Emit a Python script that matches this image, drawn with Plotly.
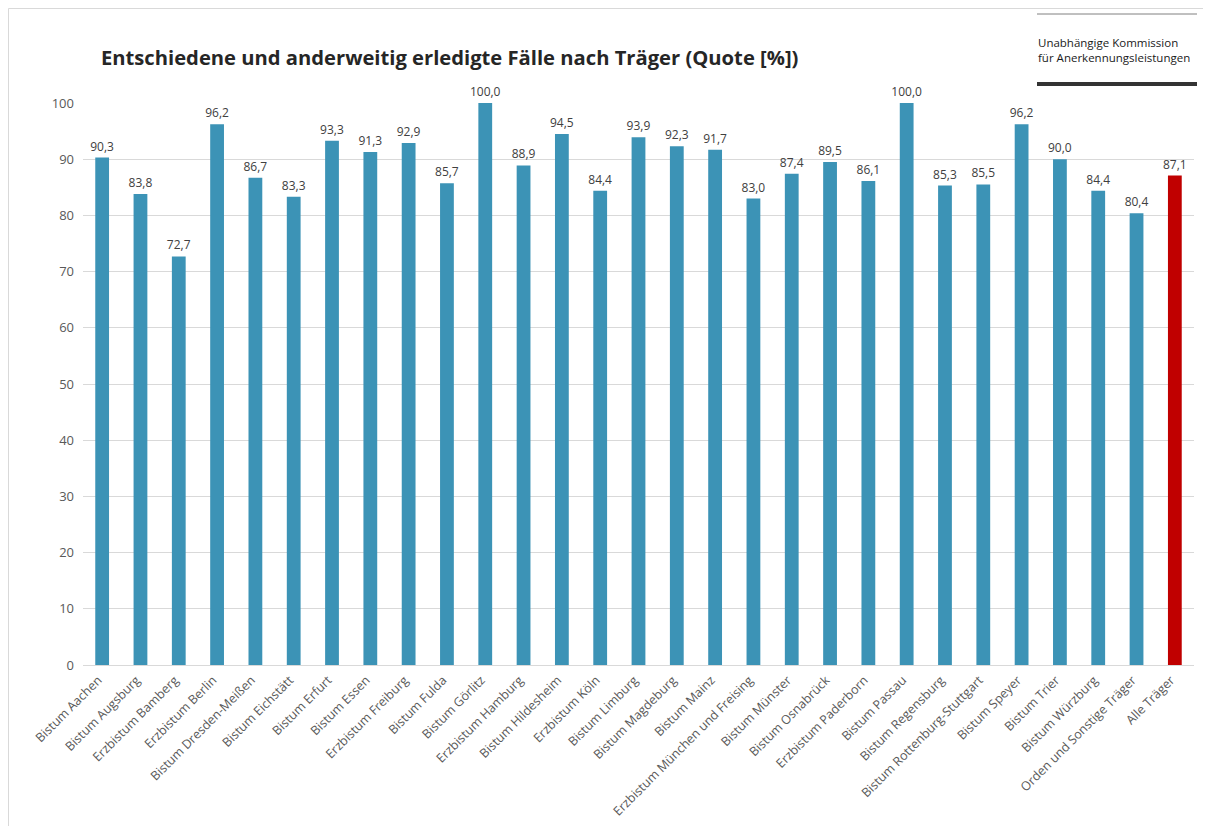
import plotly.graph_objects as go

categories = ["Bistum Aachen", "Bistum Augsburg", "Erzbistum Bamberg", "Erzbistum Berlin",
              "Bistum Dresden-Meißen", "Bistum Eichstätt", "Bistum Erfurt", "Bistum Essen",
              "Erzbistum Freiburg", "Bistum Fulda", "Bistum Görlitz", "Erzbistum Hamburg",
              "Bistum Hildesheim", "Erzbistum Köln", "Bistum Limburg", "Bistum Magdeburg",
              "Bistum Mainz", "Erzbistum München und Freising", "Bistum Münster",
              "Bistum Osnabrück", "Erzbistum Paderborn", "Bistum Passau", "Bistum Regensburg",
              "Bistum Rottenburg-Stuttgart", "Bistum Speyer", "Bistum Trier", "Bistum Würzburg",
              "Orden und Sonstige Träger", "Alle Träger"]
values = [90.3, 83.8, 72.7, 96.2, 86.7, 83.3, 93.3, 91.3, 92.9, 85.7, 100.0, 88.9, 94.5, 84.4,
          93.9, 92.3, 91.7, 83.0, 87.4, 89.5, 86.1, 100.0, 85.3, 85.5, 96.2, 90.0, 84.4, 80.4, 87.1]
y_ticks = [0, 10, 20, 30, 40, 50, 60, 70, 80, 90, 100]

BLUE = "#3c93b6"
RED = "#c00000"
colors = [RED if c == "Alle Träger" else BLUE for c in categories]
labels = [f"{v:.1f}".replace(".", ",") for v in values]

FONT = "Open Sans"

# page offset (body margin) of 8px
OFF = 8
W, H = 1211 - OFF - 8, 834 - OFF - 8
L, R, T, B = 83, 1194, 103, 665  # page coords of plot area
ml, mt = L - OFF, T - OFF
mr = W - (R - OFF)
mb = H - (B - OFF)
PW, PH = R - L, B - T


def fx(px):
    return (px - L) / PW


def fy(py):
    return (B - py) / PH


fig = go.Figure(go.Bar(
    x=categories, y=values, marker=dict(color=colors, line=dict(width=0)),
    text=labels, textposition="outside", cliponaxis=False, constraintext="none",
    textfont=dict(family=FONT, size=12, color="#404040"),
))

fig.update_layout(
    width=W, height=H,
    paper_bgcolor="white", plot_bgcolor="white",
    margin=dict(l=ml, r=mr, t=mt, b=mb, pad=0, autoexpand=False),
    bargap=0.64,
    showlegend=False,
    font=dict(family=FONT, color="#595959"),
    xaxis=dict(tickangle=-45, tickfont=dict(size=12.5, color="#595959", family=FONT),
               showline=True, linecolor="#d9d9d9", linewidth=1, ticks="", automargin=False,
               ticklabelstandoff=2, ticklabelshift=-4,
               range=[-0.5, len(categories) - 0.5]),
    yaxis=dict(range=[0, 100], tickvals=y_ticks, showgrid=True, gridcolor="#d9d9d9",
               gridwidth=1, zeroline=False, ticks="", automargin=False,
               tickfont=dict(size=13, color="#595959", family=FONT),
               ticklabelstandoff=8),
    annotations=[
        dict(text="<b>Entschiedene und anderweitig erledigte Fälle nach Träger (Quote [%])</b>",
             xref="paper", yref="paper", x=fx(99), y=fy(57),
             xanchor="left", yanchor="middle", showarrow=False,
             font=dict(family=FONT, size=20.2, color="#262626")),
        dict(text="Unabhängige Kommission",
             xref="paper", yref="paper", x=fx(1036), y=fy(42),
             xanchor="left", yanchor="middle", align="left", showarrow=False,
             font=dict(family=FONT, size=11.5, color="#1a1a1a")),
        dict(text="für Anerkennungsleistungen",
             xref="paper", yref="paper", x=fx(1036), y=fy(57.5),
             xanchor="left", yanchor="middle", align="left", showarrow=False,
             font=dict(family=FONT, size=11.5, color="#1a1a1a")),
    ],
    shapes=[
        dict(type="line", xref="paper", yref="paper", x0=fx(1037), x1=fx(1197),
             y0=fy(14), y1=fy(14), line=dict(color="#808080", width=1)),
        dict(type="line", xref="paper", yref="paper", x0=fx(1037), x1=fx(1197),
             y0=fy(84), y1=fy(84), line=dict(color="#333333", width=4)),
        dict(type="rect", xref="paper", yref="paper", x0=fx(OFF + 0.5), x1=fx(1230),
             y0=fy(850), y1=fy(OFF + 0.5), line=dict(color="#d9d9d9", width=1)),
    ],
)

fig.write_html("out.html")
